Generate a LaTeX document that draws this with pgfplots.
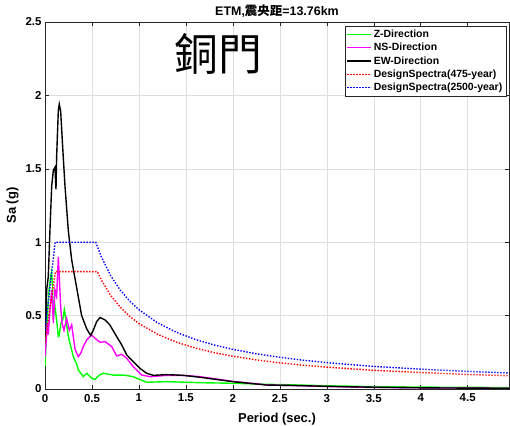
\documentclass[border=0pt]{standalone}
\usepackage{pgfplots}
\pgfplotsset{compat=1.18}
\usepackage{fontspec}
\setmainfont{Liberation Sans}
\newfontfamily\cjk{Noto Sans CJK TC}
\definecolor{mgreen}{rgb}{0,1,0}
\definecolor{mmag}{rgb}{1,0,1}
\begin{document}
\begin{tikzpicture}
\begin{axis}[name=ax, scale only axis, width=464bp, height=367bp,
  xmin=0, xmax=4.94, ymin=0, ymax=2.5,
  xtick={0,0.5,1,1.5,2,2.5,3,3.5,4,4.5},
  ytick={0,0.5,1,1.5,2,2.5},
  grid=major, major grid style={black!13, line width=0.5pt},
  axis line style={black!85, line width=0.5pt},
  tick style={black!85, line width=0.5pt},
  tick align=inside, major tick length=4bp,
  ticklabel style={font=\bfseries\fontsize{11.5}{13}\selectfont},
  xticklabel style={yshift=-1.5bp},
  /pgf/number format/assume math mode=true,
  title={ETM,{\cjk 震央距}=13.76km},
  title style={font=\bfseries\fontsize{12.5}{14}\selectfont, yshift=-4.5bp},
  xlabel={Period (sec.)},
  ylabel={Sa (g)},
  label style={font=\bfseries\fontsize{13}{15}\selectfont},
  xlabel style={yshift=-4bp},
  legend style={at={(0.9935,0.989)}, anchor=north east,
    font=\bfseries\fontsize{10.5}{12}\selectfont, draw=black!85,
    inner sep=1.5pt, row sep=0.3pt, cells={anchor=west}},
  legend image code/.code={\draw[line width=1.4pt] plot coordinates {(0bp,0bp) (24bp,0bp)};},
]
\addplot[mgreen, line width=1.4pt] coordinates {
(0,0.152) (0.011,0.31) (0.025,0.49) (0.043,0.675) (0.06,0.766) (0.071,0.80) (0.08,0.70)
(0.089,0.49) (0.106,0.56) (0.124,0.47) (0.142,0.357) (0.149,0.36) (0.17,0.448) (0.188,0.47)
(0.206,0.54) (0.224,0.47) (0.248,0.36) (0.27,0.30) (0.302,0.22) (0.337,0.17) (0.355,0.13)
(0.408,0.084) (0.444,0.107) (0.497,0.073) (0.532,0.066) (0.58,0.095) (0.62,0.107)
(0.727,0.095) (0.834,0.095) (0.94,0.084) (0.976,0.073) (1.083,0.046) (1.296,0.05)
(1.65,0.043) (2.0,0.039) (2.36,0.032) (2.72,0.027) (3.0,0.022) (3.5,0.016) (4.0,0.013)
(4.5,0.011) (4.94,0.010)};
\addlegendentry{Z-Direction}
\addplot[mmag, line width=1.4pt] coordinates {
(0,0.22) (0.011,0.31) (0.025,0.45) (0.035,0.37) (0.053,0.54) (0.071,0.675) (0.08,0.58)
(0.089,0.45) (0.106,0.675) (0.124,0.63) (0.142,0.90) (0.152,0.766) (0.167,0.56) (0.181,0.448)
(0.202,0.40) (0.231,0.48) (0.259,0.40) (0.284,0.437) (0.32,0.27) (0.355,0.22) (0.38,0.243)
(0.408,0.289) (0.444,0.334) (0.497,0.368) (0.532,0.346) (0.586,0.318) (0.64,0.323)
(0.71,0.289) (0.763,0.225) (0.817,0.236) (0.87,0.209) (0.94,0.152) (1.03,0.095)
(1.118,0.084) (1.296,0.093) (1.47,0.093) (1.65,0.084) (2.0,0.052) (2.36,0.028)
(2.72,0.022) (3.0,0.017) (3.5,0.011) (4.0,0.008) (4.5,0.006) (4.94,0.005)};
\addlegendentry{NS-Direction}
\addplot[black, line width=1.4pt] coordinates {
(0,0.357) (0.011,0.50) (0.018,0.675) (0.035,0.766) (0.053,1.085) (0.071,1.38) (0.089,1.49)
(0.106,1.51) (0.117,1.36) (0.124,1.585) (0.142,1.90) (0.152,1.94) (0.167,1.89) (0.188,1.65)
(0.213,1.38) (0.248,1.08) (0.284,0.88) (0.337,0.69) (0.39,0.50) (0.444,0.41) (0.486,0.365)
(0.514,0.40) (0.55,0.459) (0.586,0.487) (0.64,0.47) (0.69,0.437) (0.763,0.357) (0.817,0.30)
(0.87,0.232) (0.94,0.186) (1.01,0.141) (1.083,0.107) (1.153,0.093) (1.296,0.098) (1.47,0.093)
(1.65,0.08) (2.0,0.05) (2.36,0.027) (2.72,0.023) (3.0,0.018) (3.5,0.012) (4.0,0.008)
(4.5,0.006) (4.94,0.005)};
\addlegendentry{EW-Direction}
\addplot[red, line width=1.4pt, dash pattern=on 1.4bp off 1.6bp] coordinates {
(0,0.32) (0.111,0.8) (0.557,0.8) (0.6,0.743) (0.7,0.637) (0.8,0.558) (0.9,0.496) (1.0,0.446)
(1.2,0.372) (1.4,0.319) (1.6,0.279) (1.8,0.248) (2.0,0.223) (2.25,0.198) (2.5,0.178)
(2.75,0.162) (3.0,0.149) (3.5,0.127) (4.0,0.112) (4.5,0.099) (5.0,0.089)};
\addlegendentry{DesignSpectra(475-year)}
\addplot[blue, line width=1.4pt, dash pattern=on 1.4bp off 1.6bp] coordinates {
(0,0.4) (0.108,1.0) (0.54,1.0) (0.6,0.9) (0.7,0.771) (0.8,0.675) (0.9,0.6) (1.0,0.54)
(1.2,0.45) (1.4,0.386) (1.6,0.3375) (1.8,0.3) (2.0,0.27) (2.25,0.24) (2.5,0.216)
(2.75,0.196) (3.0,0.18) (3.5,0.154) (4.0,0.135) (4.5,0.12) (5.0,0.108)};
\addlegendentry{DesignSpectra(2500-year)}
\node[font=\cjk\fontsize{44}{44}\selectfont, inner sep=0pt] at (axis cs:1.85,2.285) {銅門};
\end{axis}
\pgfresetboundingbox
\path (ax.south west) ++(-45bp,-37bp) rectangle ++(510bp,426bp);
\end{tikzpicture}
\end{document}
